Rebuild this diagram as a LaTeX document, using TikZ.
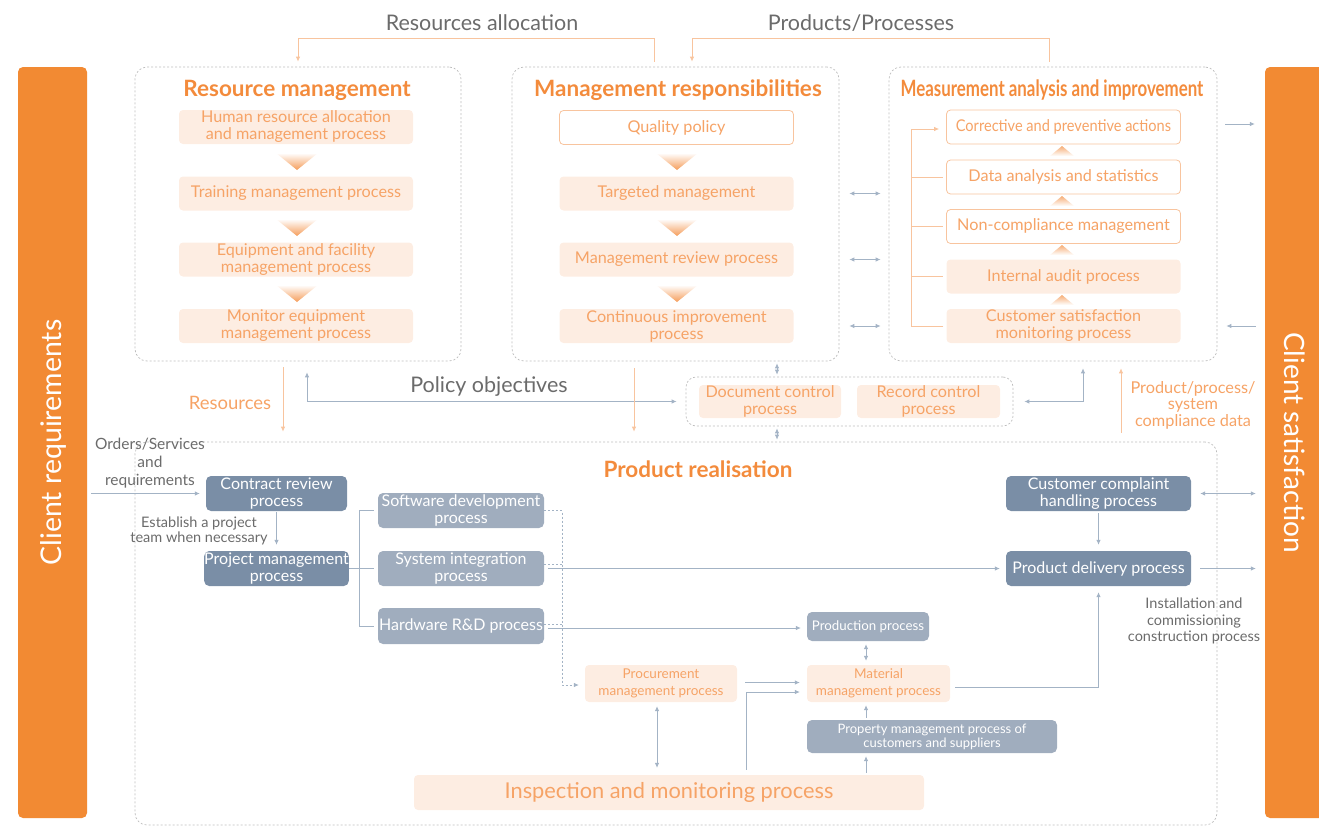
\documentclass[tikz,border=0pt]{standalone}
\usepackage{fontspec}
\usepackage{graphicx}
\setmainfont{Lato}
\usetikzlibrary{arrows.meta,calc}

\definecolor{bannerC}{HTML}{F28A33}
\definecolor{titleC}{HTML}{F38B3C}
\definecolor{otxt}{HTML}{F6A366}
\definecolor{ofill}{HTML}{FDEDE2}
\definecolor{oline}{HTML}{F8C49E}
\definecolor{gtxt}{HTML}{6B6B6B}
\definecolor{bline}{HTML}{A3B3C5}
\definecolor{dboxC}{HTML}{7A8EA6}
\definecolor{lboxC}{HTML}{A0ADBE}
\definecolor{frameC}{HTML}{BDBDBD}

\newcommand\fsz[2]{\fontsize{#1}{#2}\selectfont}

\tikzset{
  banner/.style={fill=bannerC, rounded corners=5pt, inner sep=0pt},
  frame/.style={draw=frameC, line width=0.7pt, dash pattern=on 2pt off 2pt, rounded corners=12pt, inner sep=0pt},
  heading/.style={text=titleC, font=\bfseries\fsz{22.5}{24}, inner sep=0pt},
  obox/.style={fill=ofill, text=otxt, rounded corners=4pt, align=center, inner sep=0pt,
    font=\fsz{16.2}{17}, minimum width=234pt, minimum height=34pt},
  owbox/.style={obox, fill=white, draw=oline, line width=0.8pt},
  dkbox/.style={fill=dboxC, text=white, rounded corners=5pt, align=center, inner sep=0pt,
    font=\fsz{16}{17}},
  ltbox/.style={fill=lboxC, text=white, rounded corners=5pt, align=center, inner sep=0pt,
    font=\fsz{16}{17}},
  note/.style={text=gtxt, align=center, inner sep=0pt},
  tip/.style={-{Latex[length=5pt,width=4.5pt]}},
  dtip/.style={{Latex[length=5pt,width=4.5pt]}-{Latex[length=5pt,width=4.5pt]}},
  bln/.style={draw=bline, line width=0.8pt},
  oln/.style={draw=oline, line width=0.8pt},
  bdsh/.style={draw=bline, line width=0.8pt, dash pattern=on 2pt off 2pt},
}

\begin{document}
\begin{tikzpicture}[x=1pt,y=-1pt]
\useasboundingbox (0,0) rectangle (1319,827);

% side banners
\node[banner, minimum width=69pt, minimum height=751pt] (lb) at (52.5,442.5) {};
\node[rotate=90, text=white, font=\fsz{28.5}{30}, inner sep=0pt] (lbt) at (53,442.5) {Client requirements};
\node[banner, minimum width=64pt, minimum height=751pt] (rb) at (1297,442.5) {};
\node[rotate=-90, text=white, font=\fsz{28}{30}, inner sep=0pt] (rbt) at (1295,442.5) {Client satisfaction};

% group frames
\node[frame, minimum width=326pt, minimum height=294pt] (rmF) at (298,214) {};
\node[frame, minimum width=327pt, minimum height=294pt] (mrF) at (675.5,214) {};
\node[frame, minimum width=328pt, minimum height=294pt] (maF) at (1053,214) {};
\node[frame, rounded corners=10pt, minimum width=327pt, minimum height=49pt] (docF) at (849.5,401.5) {};
\node[frame, minimum width=1082pt, minimum height=383pt] (prF) at (676,633.5) {};

% headings
\node[heading] (rmH) at (297,90) {Resource management};
\node[heading] (mrH) at (678,90) {Management responsibilities};
\node[heading] (maH) at (1052,90) {\scalebox{0.75}[1]{Measurement analysis and improvement}};
\node[heading] (prH) at (698,469) {Product realisation};

% top labels
\node[note, font=\fsz{21.5}{23}] (raL) at (482,23) {Resources allocation};
\node[note, font=\fsz{21.5}{23}] (ppL) at (861,23) {Products/Processes};

% resource management column
\node[obox] (hr) at (296,127) {Human resource allocation\\and management process};
\node[obox] (tr) at (296,193.5) {Training management process};
\node[obox] (eq) at (296,259.5) {Equipment and facility\\management process};
\node[obox] (mo) at (296,326) {Monitor equipment\\management process};

% management responsibilities column
\node[owbox] (qp) at (676.5,127.5) {Quality policy};
\node[obox] (tg) at (676.5,193.5) {Targeted management};
\node[obox] (mr) at (676.5,259.5) {Management review process};
\node[obox] (ci) at (676.5,326) {Continuous improvement\\process};

% measurement column
\node[owbox] (ca) at (1063.5,127) {\scalebox{0.9}[1]{Corrective and preventive actions}};
\node[owbox] (da) at (1063.5,177) {Data analysis and statistics};
\node[owbox] (nc) at (1063.5,226.5) {Non-compliance management};
\node[obox] (ia) at (1063.5,276.5) {Internal audit process};
\node[obox] (cs) at (1063.5,326) {Customer satisfaction\\monitoring process};

% downward chevrons
\foreach \cx in {297,677}{
  \foreach \ty in {153,219,285}{
    \shade[top color=white, bottom color=titleC!85] (\cx-21,\ty) -- (\cx+21,\ty) -- (\cx,\ty+17) -- cycle;
  }
}
% upward chevrons
\foreach \ty in {146,196,245,295}{
  \shade[top color=titleC!70, bottom color=white] (1062,\ty) -- (1074,\ty+10) -- (1050,\ty+10) -- cycle;
}

% feedback bracket in measurement column
\draw[oln, tip] ([xshift=-3pt]cs.west) -- ([xshift=-35pt]cs.west) |- ([xshift=-7pt,yshift=-2pt]ca.west);
\foreach \b in {da,nc,ia}{
  \draw[oln] ([xshift=-35pt]\b.west) -- ([xshift=-3pt]\b.west);
}

% document control
\node[obox, minimum width=142pt, minimum height=33pt] (dc) at (770,401.5) {Document control\\process};
\node[obox, minimum width=143pt, minimum height=33pt] (rc) at (928.5,401.5) {Record control\\process};

% top connectors
\draw[oln, tip, shorten <=5pt, shorten >=5pt] ([xshift=-21.5pt]mrF.north) -- ++(0,-28) -| (rmF.north);
\draw[oln, tip, shorten <=5pt, shorten >=5pt] ([xshift=-4pt]maF.north) -- ++(0,-28) -| ([xshift=16.5pt]mrF.north);

% links between frames
\foreach \b in {tg,mr,ci}{
  \draw[bln, dtip, shorten <=10pt, shorten >=8pt] (mrF.east |- \b) -- (maF.west |- \b);
}
\draw[bln, tip, shorten <=8pt, shorten >=10pt] ([yshift=3pt]maF.east |- ca) -- ([yshift=3pt]rb.west |- ca);
\draw[bln, tip, shorten <=9pt, shorten >=9pt] (rb.west |- cs) -- (maF.east |- cs);

% middle band
\draw[oln, tip, shorten <=6pt, shorten >=10pt] ([xshift=-15pt]rmF.south) -- ([xshift=-15pt]rmF.south |- prF.north);
\node[text=otxt, font=\fsz{18.5}{20}, inner sep=0pt] (resL) at (230,403) {Resources};
\draw[bln, dtip, shorten <=11pt, shorten >=9pt] ([xshift=9pt]rmF.south) |- (docF.west);
\node[note, font=\fsz{21.5}{23}] (poL) at (489,387) {Policy objectives};
\draw[oln, tip, shorten <=7pt, shorten >=10pt] ([xshift=-41.5pt]mrF.south) -- ([xshift=-41.5pt]mrF.south |- prF.north);
\draw[bln, dtip, shorten <=2pt, shorten >=2pt] ([xshift=-72.5pt]docF.north) -- ([xshift=-72.5pt]docF.north |- mrF.south);
\draw[bln, dtip, shorten <=2pt, shorten >=2pt] ([xshift=-72.5pt]docF.south) -- ([xshift=-72.5pt]docF.south |- prF.north);
\draw[bln, dtip, shorten <=7pt, shorten >=11pt] ([xshift=30pt]maF.south) |- (docF.east);
\draw[oln, tip, shorten <=9pt, shorten >=7pt] ([xshift=68pt]maF.south |- prF.north) -- ([xshift=68pt]maF.south);
\node[text=otxt, font=\fsz{16.3}{16.5}, align=center, inner sep=0pt] (pcdL) at (1193,405) {Product/process/\\system\\compliance data};

% product realisation
\node[note, font=\fsz{15.5}{18}] (ordL) at (150,463) {Orders/Services\\and\\requirements};
\node[dkbox, minimum width=141pt, minimum height=35pt] (cr) at (276.5,493.5) {Contract review\\process};
\node[dkbox, minimum width=141pt, minimum height=35pt] (pm) at (276.5,568.5) {Project management\\process};
\node[note, font=\fsz{14.5}{15.5}] (estL) at (199,531) {Establish a project\\team when necessary};
\node[ltbox, minimum width=166pt, minimum height=35pt] (sw) at (461,510.5) {Software development\\process};
\node[ltbox, minimum width=166pt, minimum height=35pt] (si) at (461,568.5) {System integration\\process};
\node[ltbox, minimum width=166pt, minimum height=36pt] (hw) at (461,626) {Hardware R\&D process};
\node[dkbox, minimum width=185pt, minimum height=35pt] (cc) at (1098.5,493.5) {Customer complaint\\handling process};
\node[dkbox, minimum width=185pt, minimum height=35pt] (pd) at (1098.5,568.5) {Product delivery process};
\node[note, font=\fsz{14.5}{16.5}] (insL) at (1194,621) {Installation and\\commissioning\\construction process};
\node[ltbox, font=\fsz{13.3}{14}, minimum width=122pt, minimum height=29pt] (pp) at (868,626.5) {Production process};
\node[obox, font=\fsz{13.5}{17}, minimum width=143pt, minimum height=37pt] (mm) at (878.5,683.5) {Material\\management process};
\node[obox, font=\fsz{13.5}{17}, minimum width=152pt, minimum height=37pt] (pc) at (661,683.5) {Procurement\\management process};
\node[ltbox, font=\fsz{13}{14}, minimum width=250pt, minimum height=33pt] (pr) at (932,736.5) {Property management process of\\customers and suppliers};
\node[obox, font=\fsz{21.8}{23}, minimum width=510pt, minimum height=35pt] (im) at (669,792.5) {Inspection and monitoring process};

% realisation connectors
\draw[bln, tip, shorten <=4pt, shorten >=6pt] (lb.east |- cr) -- (cr.west);
\draw[bln, tip, shorten <=1pt, shorten >=6pt] (cr.south) -- (pm.north);
\draw[bln] (pm.east) -- ([xshift=-4pt]si.west);
\draw[bln] ([xshift=-4pt]sw.west) -- ([xshift=-18pt]sw.west) |- ([xshift=-4pt]hw.west);
\draw[bdsh, tip] (sw.east) -- ++(18,0) |- ([xshift=-6pt,yshift=-1.5pt]pc.west);
\draw[bdsh] ([yshift=4.5pt]si.east) -- ++(18,0);
\draw[bdsh] ([yshift=2pt]hw.east) -- ++(18,0);
\draw[bln, tip, shorten <=4pt, shorten >=6pt] (si.east) -- (pd.west);
\draw[bln, tip, shorten <=4pt, shorten >=6pt] ([yshift=-2pt]hw.east) -- ([yshift=-2pt]hw.east -| pp.west);
\draw[bln, tip, shorten <=2pt, shorten >=6pt] (cc.south) -- (pd.north);
\draw[bln, dtip, shorten <=9pt, shorten >=9pt] (cc.east) -- (rb.west |- cc);
\draw[bln, tip, shorten <=9pt, shorten >=9pt] (pd.east) -- (rb.west |- pd);
\draw[bln, dtip, shorten <=4pt, shorten >=3pt] ([xshift=-12.5pt]mm.north) -- ([xshift=-12.5pt]mm.north |- pp.south);
\draw[bln, tip, shorten <=8pt, shorten >=7pt] ([yshift=1pt]pc.east) -- ([yshift=1pt]pc.east -| mm.west);
\draw[bln, tip, shorten <=5pt, shorten >=7pt] ([xshift=77pt]im.north) |- ([yshift=-8.5pt]mm.west);
\draw[bln, dtip, shorten <=4pt, shorten >=7pt] ([xshift=-4pt]pc.south) -- ([xshift=-4pt]pc.south |- im.north);
\draw[bln, tip, shorten <=2pt, shorten >=3pt] ([xshift=-12.5pt]mm.south |- pr.north) -- ([xshift=-12.5pt]mm.south);
\draw[bln, tip, shorten <=2pt, shorten >=3pt] ([xshift=-12.5pt]mm.south |- im.north) -- ([xshift=-12.5pt]mm.south |- pr.south);
\draw[bln, tip, shorten <=5pt, shorten >=6pt] ([yshift=-3.5pt]mm.east) -| (pd.south);
\end{tikzpicture}
\end{document}
